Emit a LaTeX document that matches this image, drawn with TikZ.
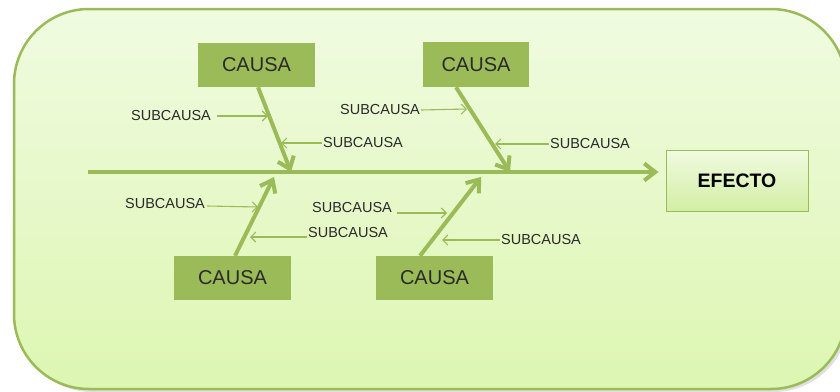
\documentclass[tikz,border=0pt]{standalone}
\usepackage{fontspec}
\setmainfont{Liberation Sans}
\usetikzlibrary{arrows.meta,calc}
\definecolor{fishgreen}{HTML}{9BBB59}
\definecolor{bgtop}{HTML}{F0FBE0}
\definecolor{bgbot}{HTML}{DDF6B2}
\definecolor{textgray}{HTML}{2A2A2A}

\begin{document}
\begin{tikzpicture}[x=1pt,y=-1pt,
    causa/.style={rectangle, fill=fishgreen, text=textgray, font=\fontsize{20}{20}\selectfont, minimum width=117pt, minimum height=44pt, inner sep=0pt},
    sub/.style={text=textgray, font=\fontsize{14.5}{15}\selectfont, inner sep=1pt},
    bone/.style={draw=fishgreen, line width=4pt, -{Straight Barb[length=11pt, width=17pt]}},
    subarrow/.style={draw=fishgreen, line width=1.1pt, -{Straight Barb[length=5pt, width=10pt]}}]
        \useasboundingbox (0,0) rectangle (840,391);

        % Background panel
        \fill[black!12, rounded corners=75pt] (17,12) rectangle (849,392);
        \draw[draw=fishgreen, line width=2.5pt, rounded corners=75pt, top color=bgtop, bottom color=bgbot] (14,9) rectangle (846,389);

        % Effect
        \node[rectangle, draw=fishgreen, line width=1pt, top color=bgtop, bottom color=bgbot!85!fishgreen, minimum width=142pt, minimum height=61pt, text=black, font=\fontsize{19.5}{19.5}\selectfont\bfseries] (efecto) at (737,180.5) {EFECTO};

        % Causes
        \node[causa] (c1) at (256.5,65) {CAUSA};
        \node[causa, minimum width=106pt, minimum height=45pt] (c2) at (476,64.5) {CAUSA};
        \node[causa] (c3) at (232.5,278) {CAUSA};
        \node[causa] (c4) at (434.5,278) {CAUSA};

        % Spine and bones
        \coordinate (tail) at (88,172);
        \coordinate (j1) at (291,172);
        \coordinate (j2) at (510,172);
        \coordinate (j3) at (274,177);
        \coordinate (j4) at (481,177);
        \draw[bone, shorten >=7pt] (tail) -- (tail -| efecto.west);
        \draw[bone] ($(c1.south)+(1.5,0)$) -- (j1);
        \draw[bone] ($(c2.south)+(-20,0)$) -- (j2);
        \draw[bone] ($(c3.north)+(2.5,0)$) -- (j3);
        \draw[bone] ($(c4.north)+(-14.5,0)$) -- (j4);

        % Subcauses
        \node[sub] (s1) at (171,116) {SUBCAUSA};
        \node[sub] (s2) at (363,143) {SUBCAUSA};
        \node[sub] (s3) at (380,110) {SUBCAUSA};
        \node[sub] (s4) at (590,144) {SUBCAUSA};
        \node[sub] (s5) at (165,204) {SUBCAUSA};
        \node[sub] (s6) at (352,208) {SUBCAUSA};
        \node[sub] (s7) at (348,233) {SUBCAUSA};
        \node[sub] (s8) at (541,240) {SUBCAUSA};

        \coordinate (e1) at (268,116);
        \coordinate (e2) at (281,143);
        \coordinate (e3) at (467,109);
        \coordinate (e4) at (495,144);
        \coordinate (e5) at (258,207);
        \coordinate (e6) at (447,213);
        \coordinate (e7) at (250,237);
        \coordinate (e8) at (442,240);

        \draw[subarrow] ($(s1.east)+(5,0)$) -- (e1);
        \draw[subarrow] (s2.west) -- (e2);
        \draw[subarrow] (s3.east) -- (e3);
        \draw[subarrow] (s4.west) -- (e4);
        \draw[subarrow] ($(s5.east)+(1,2)$) -- (e5);
        \draw[subarrow] ($(s6.east)+(4,5)$) -- (e6);
        \draw[subarrow] ($(s7.west)+(0,4)$) -- (e7);
        \draw[subarrow] (s8.west) -- (e8);
      \end{tikzpicture}
\end{document}
